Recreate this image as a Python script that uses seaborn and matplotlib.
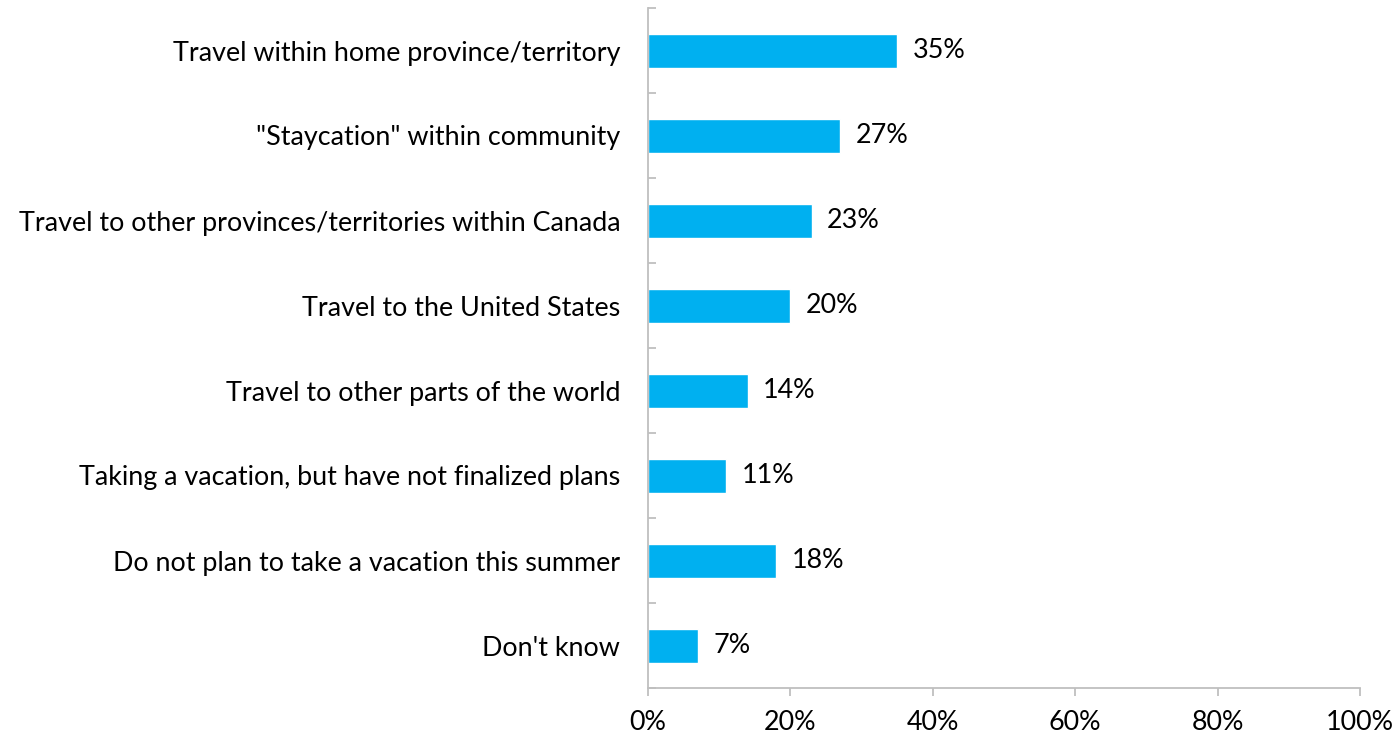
import matplotlib
matplotlib.use("Agg")
import matplotlib.pyplot as plt
import seaborn as sns
import pandas as pd

categories = [
    "Travel within home province/territory",
    "\"Staycation\" within community",
    "Travel to other provinces/territories within Canada",
    "Travel to the United States",
    "Travel to other parts of the world",
    "Taking a vacation, but have not finalized plans",
    "Do not plan to take a vacation this summer",
    "Don't know",
]
values = [35, 27, 23, 20, 14, 11, 18, 7]
x_ticks = [0, 20, 40, 60, 80, 100]

sns.set_theme(style="white")
plt.rcParams["font.family"] = ["Lato", "DejaVu Sans"]

df = pd.DataFrame({"category": categories, "value": values})

fig = plt.figure(figsize=(13.99, 7.38), dpi=100)
ax = fig.add_axes([648 / 1399, 1 - 688 / 738, (1360 - 648) / 1399, 680 / 738])

sns.barplot(data=df, y="category", x="value", orient="h", color="#00B0F0",
            saturation=1, width=0.4, ax=ax)

ax.set_xlim(0, 100)
ax.set_ylim(7.5, -0.5)
ax.set_xticks(x_ticks)
ax.set_xticklabels([f"{t}%" for t in x_ticks])
ax.set_xlabel("")
ax.set_ylabel("")

fs = 19.4
gray = "#BFBFBF"
for s in ["top", "right"]:
    ax.spines[s].set_visible(False)
for s in ["left", "bottom"]:
    ax.spines[s].set_color(gray)
    ax.spines[s].set_linewidth(1.3)

ax.tick_params(axis="x", direction="out", length=6, width=1.3, color=gray,
               labelsize=fs, pad=10, labelcolor="black", bottom=True)
ax.tick_params(axis="y", which="major", length=0, labelsize=fs, pad=20,
               labelcolor="black", left=True)
ax.set_yticks([i + 0.5 for i in range(-1, len(categories))], minor=True)
ax.tick_params(axis="y", which="minor", direction="in", length=6, width=1.3,
               color=gray, left=True)

ax.bar_label(ax.containers[0], labels=[f"{v}%" for v in values],
             padding=11, fontsize=fs, color="black")

fig.savefig("out.png", dpi=100)
